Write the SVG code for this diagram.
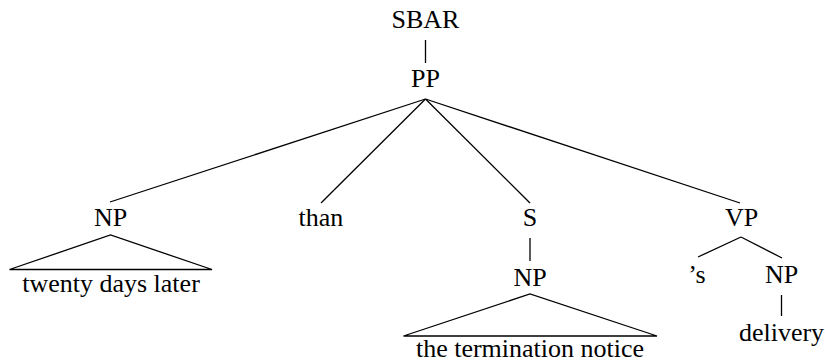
<svg xmlns="http://www.w3.org/2000/svg" width="825" height="362" viewBox="0 0 825 362">
<style>
.t{font-family:'Liberation Serif', 'Times New Roman', Times, serif;font-size:26px;fill:#000;text-anchor:middle}
.e{stroke:#000;stroke-width:1.3;fill:none}
</style>
<rect width="825" height="362" fill="#fff"/>
<g id="edges">
<line class="e" x1="425.5" y1="40" x2="425.5" y2="63"/>
<line class="e" x1="425.5" y1="99" x2="110" y2="202"/>
<line class="e" x1="425.5" y1="99" x2="321" y2="203"/>
<line class="e" x1="425.5" y1="99" x2="530" y2="203"/>
<line class="e" x1="425.5" y1="99" x2="740" y2="203"/>
<path class="e" d="M9.5,269.5 L110.5,235 L212,269.5 Z"/>
<line class="e" x1="530" y1="238" x2="530" y2="261"/>
<path class="e" d="M403.5,336 L530,294 L657,336 Z"/>
<line class="e" x1="741" y1="237" x2="698" y2="257"/>
<line class="e" x1="741" y1="237" x2="782" y2="258"/>
<line class="e" x1="781.5" y1="295" x2="781.5" y2="316"/>
</g>
<g class="t">
<g id="n-sbar"><text x="425.5" y="28">SBAR</text></g>
<g id="n-pp"><text x="425.5" y="87">PP</text></g>
<g id="n-np1"><text x="110.5" y="226">NP</text></g>
<g id="n-np1-yield"><text x="111" y="292">twenty days later</text></g>
<g id="n-than"><text x="321" y="226">than</text></g>
<g id="n-s"><text x="530" y="226">S</text></g>
<g id="n-np2"><text x="530" y="286">NP</text></g>
<g id="n-np2-yield"><text x="530" y="357">the termination notice</text></g>
<g id="n-vp"><text x="741.5" y="226">VP</text></g>
<g id="n-s-poss"><text x="697" y="283">’s</text></g>
<g id="n-np3"><text x="781.5" y="283">NP</text></g>
<g id="n-delivery"><text x="781.5" y="341">delivery</text></g>
</g>
</svg>
